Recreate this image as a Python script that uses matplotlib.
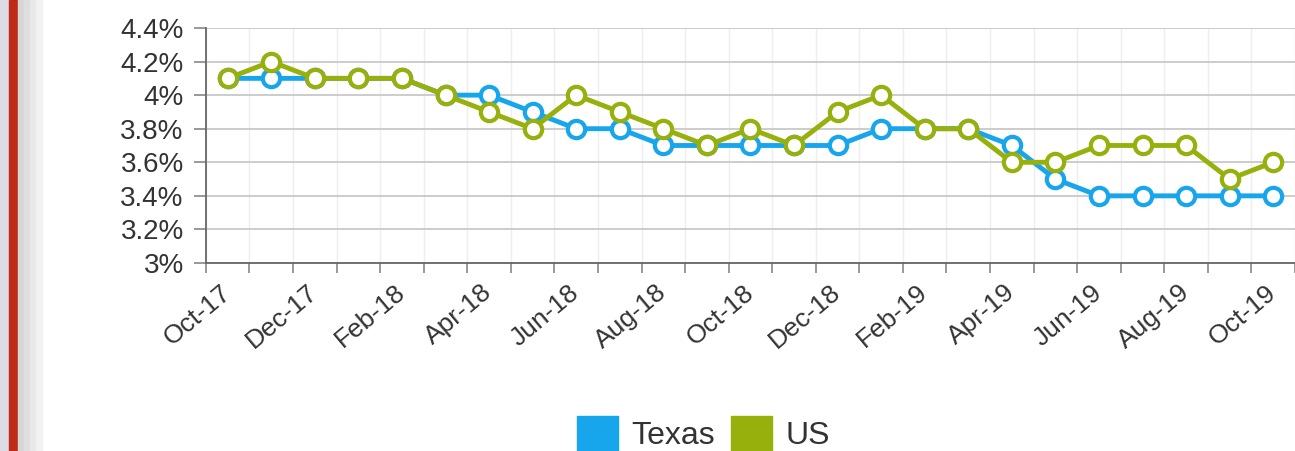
import matplotlib.pyplot as plt
from matplotlib.patches import Patch, Rectangle
from matplotlib.ticker import FuncFormatter
import numpy as np

plt.rcParams['font.family'] = ['Liberation Sans', 'DejaVu Sans']

months = ["Oct-17", "Nov-17", "Dec-17", "Jan-18", "Feb-18", "Mar-18", "Apr-18",
          "May-18", "Jun-18", "Jul-18", "Aug-18", "Sep-18", "Oct-18", "Nov-18",
          "Dec-18", "Jan-19", "Feb-19", "Mar-19", "Apr-19", "May-19", "Jun-19",
          "Jul-19", "Aug-19", "Sep-19", "Oct-19"]
texas = [4.1, 4.1, 4.1, 4.1, 4.1, 4.0, 4.0, 3.9, 3.8, 3.8, 3.7, 3.7, 3.7,
         3.7, 3.7, 3.8, 3.8, 3.8, 3.7, 3.5, 3.4, 3.4, 3.4, 3.4, 3.4]
us = [4.1, 4.2, 4.1, 4.1, 4.1, 4.0, 3.9, 3.8, 4.0, 3.9, 3.8, 3.7, 3.8,
      3.7, 3.9, 4.0, 3.8, 3.8, 3.6, 3.6, 3.7, 3.7, 3.7, 3.5, 3.6]
yticks = [3.0, 3.2, 3.4, 3.6, 3.8, 4.0, 4.2, 4.4]

c_tx = '#17a6ec'
c_us = '#97b00c'

fig = plt.figure(figsize=(12.95, 4.51), dpi=100)
ax = fig.add_axes([0.159, 0.4169, 0.841, 0.521])

# page edge on the left
fig.patches.append(Rectangle((0, 0), 9 / 1295, 1, transform=fig.transFigure,
                             color='#dcdce4', zorder=0))
fig.patches.append(Rectangle((9 / 1295, 0), 9 / 1295, 1, transform=fig.transFigure,
                             color='#bf2a18', zorder=0))
for i, col in enumerate(['#d6d6d6', '#dedede', '#e8e8e8', '#f2f2f2']):
    fig.patches.append(Rectangle(((18 + 6 * i) / 1295, 0), 6 / 1295, 1,
                                 transform=fig.transFigure, color=col, zorder=0))

x = np.arange(len(months))
ax.plot(x, texas, '-o', color=c_tx, lw=3.5, ms=12.5, mew=3, mfc='white', zorder=3)
ax.plot(x, us, '-o', color=c_us, lw=3.5, ms=12.5, mew=3, mfc='white', zorder=4)

ax.set_xlim(-0.5, len(months) - 0.5)
ax.set_ylim(3.0, 4.4)
ax.set_yticks(yticks)
ax.yaxis.set_major_formatter(FuncFormatter(lambda v, p: f"{v:g}%"))

ax.set_xticks(x[::2])
ax.set_xticklabels(months[::2], rotation=40, ha='right', va='center',
                   rotation_mode='anchor')
ax.set_xticks(np.arange(-0.5, len(months), 1.0), minor=True)
ax.tick_params(axis='x', which='major', length=0, pad=19, labelsize=19,
               labelcolor='#333333')
ax.tick_params(axis='x', which='minor', length=7, width=1.2, color='#888888')
ax.tick_params(axis='y', length=9, width=1.2, color='#888888', pad=7,
               labelsize=20, labelcolor='#333333')

ax.grid(axis='y', color='#c4c4c4', lw=1.2)
ax.grid(axis='x', which='minor', color='#eeeeee', lw=1.0)
ax.set_axisbelow(True)
for s in ['top', 'right']:
    ax.spines[s].set_visible(False)
for s in ['left', 'bottom']:
    ax.spines[s].set_color('#666666')
    ax.spines[s].set_linewidth(1.3)

handles = [Patch(color=c_tx, label='Texas'), Patch(color=c_us, label='US')]
fig.legend(handles=handles, loc='center', bbox_to_anchor=(0.543, 0.038),
           bbox_transform=fig.transFigure, ncol=2, frameon=False, fontsize=23,
           handlelength=1.3, handleheight=1.3, handletextpad=0.4,
           columnspacing=0.5, labelcolor='#333333')

fig.savefig('out.png', dpi=100)
